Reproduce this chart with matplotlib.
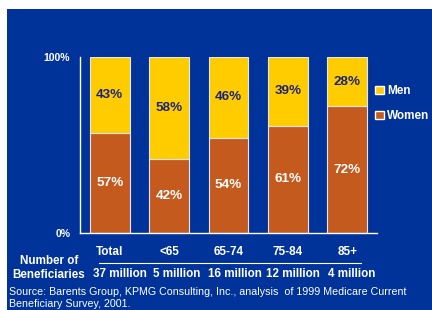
import matplotlib
matplotlib.use("Agg")
import matplotlib.pyplot as plt
from matplotlib.patches import Rectangle, Patch

plt.rcParams['font.family'] = ['Liberation Sans', 'DejaVu Sans']

# data
groups = ["Total", "<65", "65-74", "75-84", "85+"]
beneficiaries = ["37 million", "5 million", "16 million", "12 million", "4 million"]
women = [57, 42, 54, 61, 72]
men = [43, 58, 46, 39, 28]

BG = "#003399"
YELLOW = "#FFCC00"
ORANGE = "#C55A1E"
NAVY = "#1C2478"
# the counts row sits a little right of the bar centres
count_shift = [0.17, 0.13, 0.10, 0.09, 0.07]

fig = plt.figure(figsize=(4.32, 3.10), dpi=100)
fig.patch.set_facecolor("white")
# blue panel behind everything
fig.patches.append(Rectangle((7 / 432, 0), 1, 1 - 9 / 310, transform=fig.transFigure,
                             facecolor=BG, edgecolor="none", zorder=-5))

ax = fig.add_axes([80 / 432, 1 - 233 / 310, 297 / 432, 176 / 310])
ax.set_facecolor("none")
ax.set_zorder(2)

x = range(len(groups))
w = 0.67
b1 = ax.bar(x, women, width=w, color=ORANGE, edgecolor="#e6e6e6", linewidth=0.8, label="Women")
b2 = ax.bar(x, men, width=w, bottom=women, color=YELLOW, edgecolor="#e6e6e6", linewidth=0.8, label="Men")

for i in x:
    ax.text(i, women[i] / 2, f"{women[i]}%", ha="center", va="center",
            color="white", fontsize=9.7, fontweight="bold")
    ax.text(i, women[i] + men[i] / 2, f"{men[i]}%", ha="center", va="center",
            color=NAVY, fontsize=9.7, fontweight="bold")

ax.set_xlim(-0.5, 4.5)
ax.set_ylim(0, 100)
ax.set_yticks([0, 100])
ax.set_yticklabels(["0%", "100%"], fontsize=7.5, fontweight="bold", color="white")
ax.set_xticks([])
ax.tick_params(axis="y", length=0, pad=7)
for s in ["top", "right"]:
    ax.spines[s].set_visible(False)
for s in ["left", "bottom"]:
    ax.spines[s].set_color("white")
    ax.spines[s].set_linewidth(1)

# category row, underline and counts
tr = ax.get_xaxis_transform()
for i in x:
    ax.text(i, -0.108, groups[i], transform=tr, ha="center", va="center",
            color="white", fontsize=8.5, fontweight="bold")
    ax.text(i + count_shift[i], -0.233, beneficiaries[i], transform=tr, ha="center", va="center",
            color="white", fontsize=8.4, fontweight="bold")
ax.plot([-0.18, 4.23], [-0.17, -0.17], transform=tr, color="white", lw=0.8, clip_on=False)

fig.text(49 / 432, 1 - 268 / 310, "Number of\nBeneficiaries", ha="center", va="center",
         color="white", fontsize=8.4, fontweight="bold", linespacing=1.25)

fig.text(9 / 432, 1 - 292 / 310, "Source: Barents Group, KPMG Consulting, Inc., analysis  of 1999 Medicare Current",
         ha="left", va="center", color="white", fontsize=7.7)
fig.text(9 / 432, 1 - 304 / 310, "Beneficiary Survey, 2001.",
         ha="left", va="center", color="white", fontsize=7.7)

handles = [Patch(facecolor=YELLOW, edgecolor="white", label="Men"),
           Patch(facecolor=ORANGE, edgecolor="white", label="Women")]
leg = fig.legend(handles=handles, loc="upper left", bbox_to_anchor=(375 / 432, 1 - 85 / 310),
                 frameon=False, handlelength=0.75, handleheight=0.75, handletextpad=0.3,
                 labelspacing=1.1, borderaxespad=0, borderpad=0, prop={"size": 8.5, "weight": "bold"})
for t in leg.get_texts():
    t.set_color("white")

fig.savefig("out.png", dpi=100, facecolor=fig.get_facecolor())
